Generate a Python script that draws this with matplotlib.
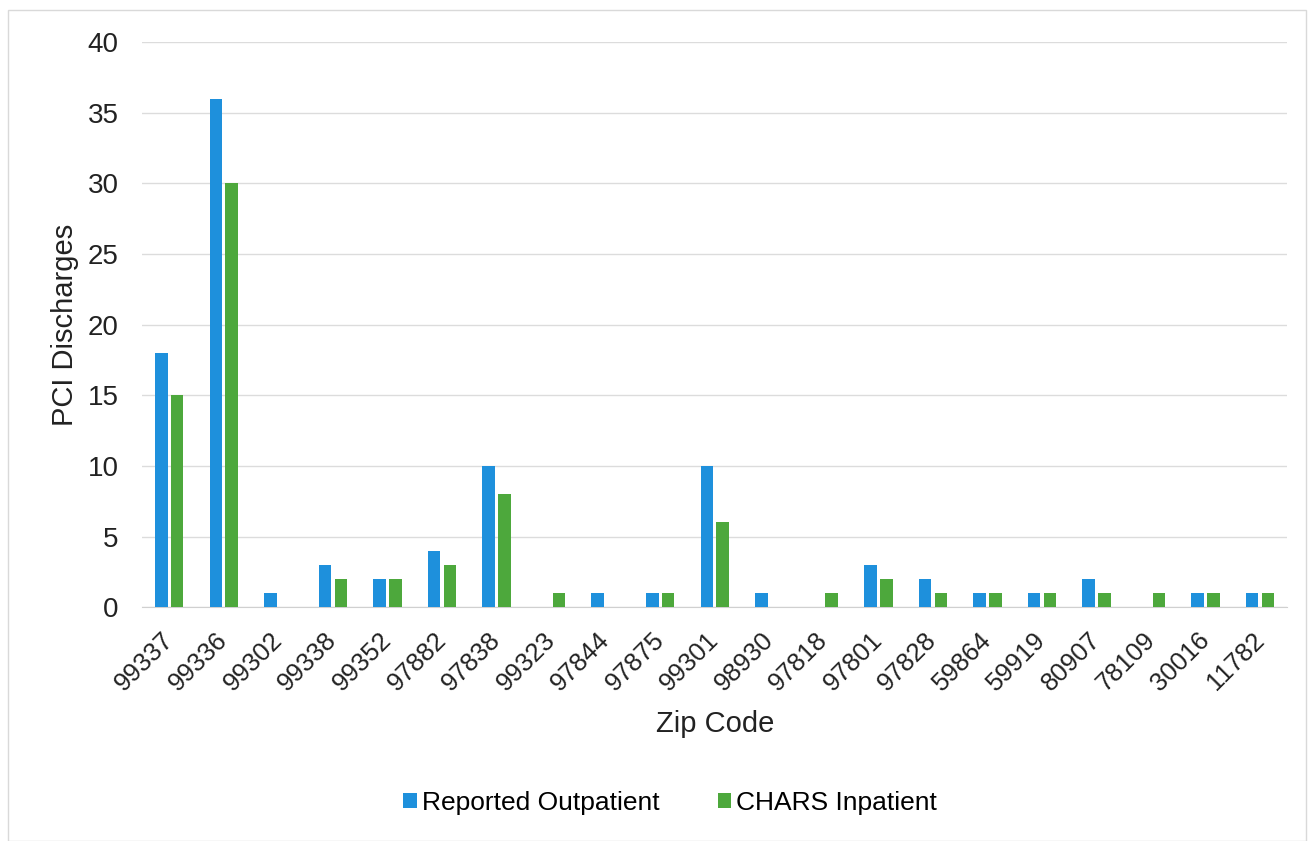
import matplotlib
matplotlib.use("Agg")
import matplotlib.pyplot as plt
import matplotlib.transforms as mtransforms
import numpy as np
from matplotlib.patches import Rectangle

zip_codes = ["99337", "99336", "99302", "99338", "99352", "97882", "97838",
             "99323", "97844", "97875", "99301", "98930", "97818", "97801",
             "97828", "59864", "59919", "80907", "78109", "30016", "11782"]
outpatient = [18, 36, 1, 3, 2, 4, 10, 0, 1, 1, 10, 1, 0, 3, 2, 1, 1, 2, 0, 1, 1]
inpatient = [15, 30, 0, 2, 2, 3, 8, 1, 0, 1, 6, 0, 1, 2, 1, 1, 1, 1, 1, 1, 1]
y_ticks = [0, 5, 10, 15, 20, 25, 30, 35, 40]

plt.rcParams["font.family"] = ["Liberation Sans", "DejaVu Sans"]

fig = plt.figure(figsize=(13.09, 8.41), dpi=100)
ax = fig.add_axes([0.1085, 0.278, 0.875, 0.672])

# thin frame around the whole chart area
fig.patches.append(Rectangle((0.006, 0.0), 0.992, 0.988, transform=fig.transFigure,
                             fill=False, edgecolor="#d9d9d9", linewidth=1.0))

x = np.arange(len(zip_codes))
w = 0.23
off = 0.145
ax.bar(x - off, outpatient, width=w, color="#1e90dc", label="Reported Outpatient", zorder=3)
ax.bar(x + off, inpatient, width=w, color="#4da83c", label="CHARS Inpatient", zorder=3)

ax.set_xlim(-0.5, len(zip_codes) - 0.5)
ax.set_ylim(0, 40)
ax.set_yticks(y_ticks)
ax.yaxis.grid(True, color="#dcdcdc", linewidth=1.0, zorder=0)
ax.set_axisbelow(True)
for s in ["top", "right", "left"]:
    ax.spines[s].set_visible(False)
ax.spines["bottom"].set_color("#d0d0d0")
ax.tick_params(axis="both", length=0, colors="#222222")
ax.tick_params(axis="y", labelsize=20, pad=17)
ax.set_xticks(x)
ax.set_xticklabels(zip_codes, rotation=45, ha="right", rotation_mode="anchor", fontsize=18.5)
ax.tick_params(axis="x", pad=15)
# nudge the slanted labels slightly left so they sit under their bars
shift = mtransforms.ScaledTranslation(-6 / 72, 0, fig.dpi_scale_trans)
for lbl in ax.get_xticklabels():
    lbl.set_transform(lbl.get_transform() + shift)

ax.set_ylabel("PCI Discharges", fontsize=21, color="#222222", labelpad=6)
ax.set_xlabel("Zip Code", fontsize=21, color="#222222", labelpad=10)

fig.legend(loc="center", bbox_to_anchor=(0.512, 0.045), ncol=2, frameon=False,
           fontsize=19, handlelength=0.5, handleheight=0.5, handletextpad=0.2,
           columnspacing=2.2)

fig.savefig("out.png", dpi=100, facecolor="white")
